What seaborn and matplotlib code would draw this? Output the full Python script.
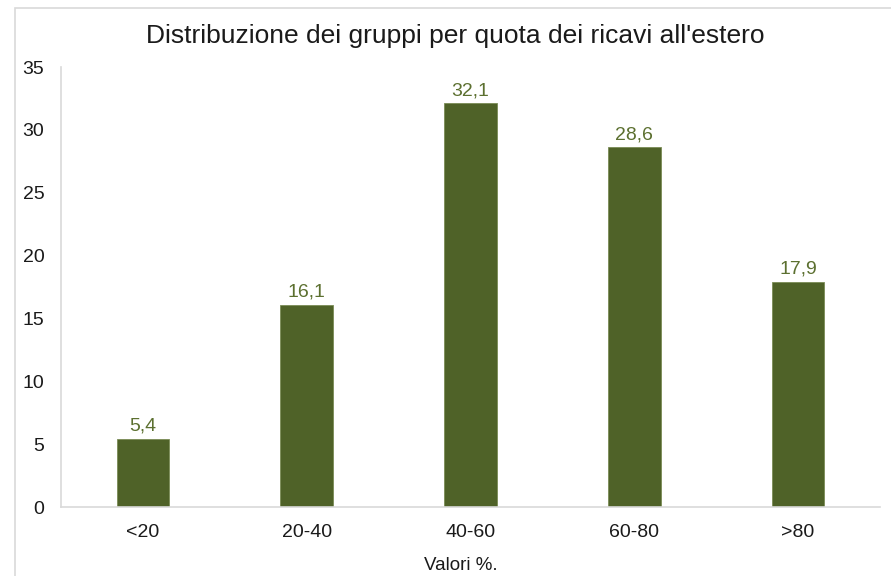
import matplotlib
matplotlib.use("Agg")
import matplotlib.pyplot as plt
import seaborn as sns
import pandas as pd
from matplotlib.patches import Rectangle

categories = ["<20", "20-40", "40-60", "60-80", ">80"]
values = [5.4, 16.1, 32.1, 28.6, 17.9]
y_ticks = [0, 5, 10, 15, 20, 25, 30, 35]

sns.set_theme(style="white")
plt.rcParams["font.family"] = ["Liberation Sans", "DejaVu Sans"]

bar_color = "#4f6228"
label_color = "#5c7030"
line_color = "#d9d9d9"

df = pd.DataFrame({"fascia": categories, "quota": values})

fig = plt.figure(figsize=(8.91, 5.76), dpi=100)
ax = fig.add_axes([61 / 891, 1 - 507 / 576, (880 - 61) / 891, (507 - 67) / 576])

sns.barplot(data=df, x="fascia", y="quota", color=bar_color, saturation=1,
            width=0.32, ax=ax)
for p in ax.patches:
    p.set_edgecolor("#7a8c55")
    p.set_linewidth(0.6)

ax.set_xlim(-0.5, len(categories) - 0.5)
ax.set_ylim(0, 35)
ax.set_yticks(y_ticks)
ax.set_yticklabels([str(t) for t in y_ticks])
ax.tick_params(axis="both", length=0, labelsize=14, colors="#1a1a1a")
ax.tick_params(axis="x", pad=12)
ax.tick_params(axis="y", pad=12)
ax.set_xlabel("")
ax.set_ylabel("")

for side in ["top", "right"]:
    ax.spines[side].set_visible(False)
for side in ["left", "bottom"]:
    ax.spines[side].set_color(line_color)
    ax.spines[side].set_linewidth(1.2)

for i, v in enumerate(values):
    ax.annotate(f"{v:.1f}".replace(".", ","), (i, v), xytext=(0, 3),
                textcoords="offset points", ha="center", va="bottom",
                fontsize=14, color=label_color)

fig.text(455 / 891, 1 - 36 / 576, "Distribuzione dei gruppi per quota dei ricavi all'estero",
         ha="center", va="center", fontsize=19, color="#1a1a1a")
fig.text(461 / 891, 1 - 566 / 576, "Valori %.", ha="center", va="center",
         fontsize=13.5, color="#1a1a1a")

# light frame around the chart area
fig.patches.append(Rectangle((15 / 891, -0.05), 1.0, 1 - 8 / 576 + 0.05,
                             transform=fig.transFigure, fill=False,
                             edgecolor=line_color, linewidth=1.2))

fig.savefig("out.png", dpi=100)
